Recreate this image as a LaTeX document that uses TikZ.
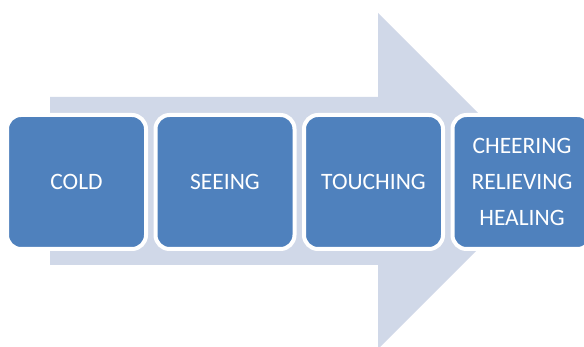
\documentclass[tikz,border=0pt]{standalone}
\usepackage{fontspec}
\setmainfont{Carlito}
\definecolor{kotak}{HTML}{4F81BD}
\definecolor{panah}{HTML}{D0D8E8}
\begin{document}
\begin{tikzpicture}[x=1pt,y=-1pt,
      tahap/.style={draw=white,line width=4pt,fill=kotak,rounded corners=14pt,
        minimum width=139pt,minimum height=134pt,inner sep=0pt,
        text=white,align=center,font=\fontsize{23.5}{36}\selectfont}]
    \useasboundingbox (0,0) rectangle (584,347);
    % Big arrow behind the steps
    \fill[panah] (50,97) -- (378,97) -- (378,13) -- (546,181)
      -- (378,349) -- (378,265) -- (50,265) -- cycle;
    % Steps
    \node[tahap] (cold) at (76.5,182) {COLD};
    \node[tahap] (seeing) at (225,182) {SEEING};
    \node[tahap] (touching) at (373.5,182) {TOUCHING};
    \node[tahap] (healing) at (522,182) {CHEERING\\RELIEVING\\HEALING};
  \end{tikzpicture}
\end{document}
